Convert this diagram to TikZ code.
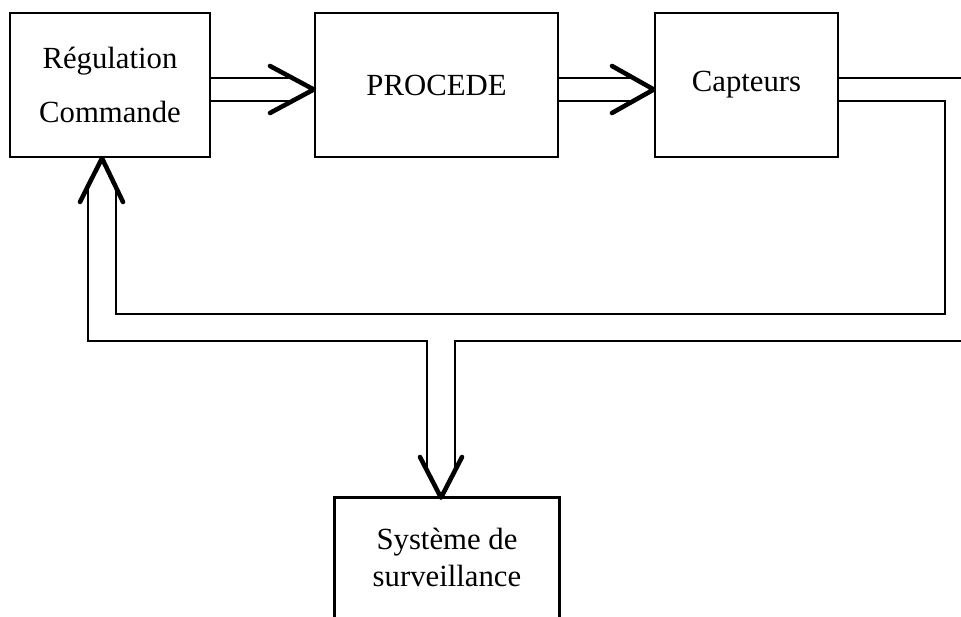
\documentclass[tikz,border=0pt]{standalone}
\usepackage{fontspec}
\setmainfont{Liberation Serif}
\usepackage{tikz}
\usetikzlibrary{calc}

\begin{document}
\begin{tikzpicture}[x=0.02cm,y=-0.02cm,
  bloc/.style={draw,line width=1.4pt,inner sep=0pt,minimum height=2.88cm,
    align=center,font=\fontsize{17.5}{30.6}\selectfont},
  lien/.style={line width=1.5pt},
  pointe/.style={line width=2.6pt,line cap=round,line join=round}]
\useasboundingbox (0,0) rectangle (961,617);
% blocs
\node[bloc,minimum width=4cm] (reg) at (110,85) {Régulation\\Commande};
\node[bloc,minimum width=4.86cm] (proc) at (436.5,85) {PROCEDE};
\node[bloc,minimum width=3.66cm] (capt) at (746.5,85) {Capteurs};
\node[inner sep=0pt,minimum width=4.48cm,minimum height=2.38cm,align=center,
  font=\fontsize{17.5}{21}\selectfont] (surv) at (447,557.5) {Système de\\surveillance};
\draw[line width=1.4pt] (surv.south west) -- (surv.north west) -- (surv.north east) -- (surv.south east);
% regulation -> procede
\draw[lien] (reg.east |- 0,78) -- (292,78);
\draw[lien] (reg.east |- 0,101) -- (292,101);
\draw[pointe] (270,66) -- (proc.west |- 0,89.5) -- (270,113);
% procede -> capteurs
\draw[lien] (proc.east |- 0,78) -- (634,78);
\draw[lien] (proc.east |- 0,101) -- (634,101);
\draw[pointe] (612,66) -- (capt.west |- 0,89.5) -- (612,113);
% sorties capteurs
\coordinate (bord) at (961,78);
\draw[lien] (capt.east |- 0,78) -- (bord);
\draw[lien] (capt.east |- 0,101) -- (945,101) -- (945,314) -- (116,314) -- (116,187);
% retour et surveillance
\draw[lien] (961,341) -- (455,341) -- (455,471);
\draw[lien] (427,471) -- (427,341) -- (88,341) -- (88,186);
\draw[pointe] (80,202) -- (reg.south -| 102,0) -- (123,202);
\draw[pointe] (420,457) -- (surv.north -| 441,0) -- (462,457);
\end{tikzpicture}
\end{document}
